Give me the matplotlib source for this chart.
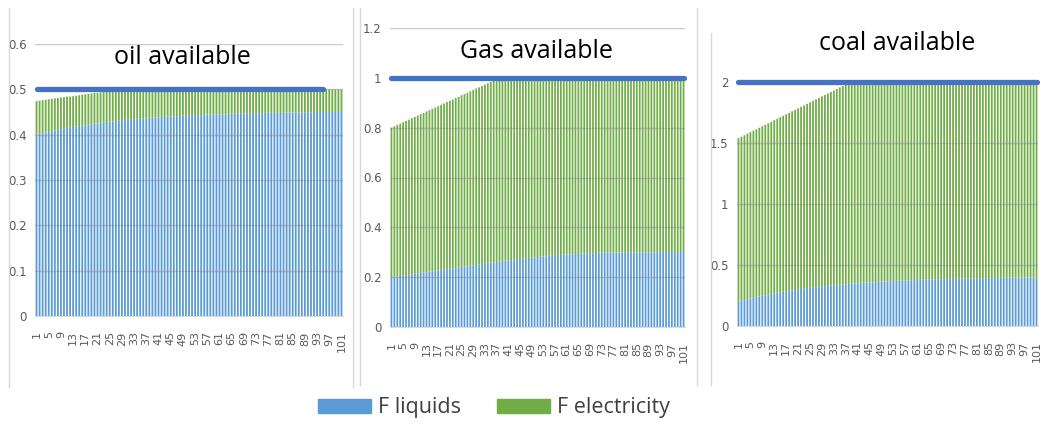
import matplotlib
matplotlib.use("Agg")
import matplotlib.pyplot as plt
from matplotlib.patches import Patch
from matplotlib.lines import Line2D

W, H = 1043, 430

# period index 1..101 (x axis of each chart)
periods = list(range(1, 102))
tick_pos = list(range(1, 102, 4))
tick_txt = [str(t) for t in tick_pos]

# --- oil ---
oil_liquids = [
    0.400, 0.402, 0.403, 0.405, 0.406, 0.408, 0.409, 0.411, 0.412, 0.413,
    0.415, 0.416, 0.417, 0.418, 0.419, 0.420, 0.421, 0.422, 0.423, 0.424,
    0.425, 0.426, 0.427, 0.428, 0.429, 0.429, 0.430, 0.431, 0.432, 0.432,
    0.433, 0.433, 0.434, 0.435, 0.435, 0.436, 0.436, 0.437, 0.437, 0.438,
    0.438, 0.439, 0.439, 0.440, 0.440, 0.440, 0.441, 0.441, 0.442, 0.442,
    0.442, 0.443, 0.443, 0.443, 0.443, 0.444, 0.444, 0.444, 0.444, 0.445,
    0.445, 0.445, 0.445, 0.446, 0.446, 0.446, 0.446, 0.446, 0.447, 0.447,
    0.447, 0.447, 0.447, 0.447, 0.448, 0.448, 0.448, 0.448, 0.448, 0.448,
    0.448, 0.448, 0.449, 0.449, 0.449, 0.449, 0.449, 0.449, 0.449, 0.449,
    0.449, 0.450, 0.450, 0.450, 0.450, 0.450, 0.450, 0.450, 0.450, 0.450,
    0.450,
]
# top of the stacked bar (liquids + electricity)
oil_top = [
    0.474, 0.475, 0.476, 0.477, 0.478, 0.479, 0.480, 0.481, 0.482, 0.483,
    0.484, 0.484, 0.485, 0.486, 0.487, 0.488, 0.489, 0.490, 0.491, 0.492,
    0.492, 0.493, 0.494, 0.495, 0.496, 0.497, 0.498, 0.499,
] + [0.5] * 73
oil_available = [0.5] * 95

# --- gas ---
gas_liquids = [
    0.200, 0.202, 0.203, 0.205, 0.207, 0.209, 0.210, 0.212, 0.214, 0.215,
    0.217, 0.219, 0.220, 0.222, 0.224, 0.226, 0.227, 0.229, 0.231, 0.232,
    0.234, 0.236, 0.237, 0.239, 0.241, 0.243, 0.244, 0.246, 0.248, 0.249,
    0.251, 0.253, 0.254, 0.256, 0.258, 0.260, 0.261, 0.263, 0.265, 0.266,
    0.268, 0.269, 0.271, 0.272, 0.273, 0.274, 0.276, 0.277, 0.278, 0.279,
    0.281, 0.282, 0.283, 0.284, 0.286, 0.287, 0.288, 0.289, 0.289, 0.290,
    0.291, 0.291, 0.292, 0.293, 0.293, 0.294, 0.295, 0.295, 0.296, 0.296,
    0.297, 0.298, 0.298, 0.299, 0.299, 0.299, 0.299, 0.299, 0.299, 0.299,
    0.299, 0.299, 0.300, 0.300, 0.300, 0.300, 0.300, 0.300, 0.300, 0.300,
    0.300, 0.300, 0.301, 0.301, 0.301, 0.301, 0.301, 0.301, 0.301, 0.301,
    0.301,
]
gas_top = [
    0.800, 0.805, 0.811, 0.816, 0.822, 0.827, 0.832, 0.838, 0.843, 0.849,
    0.854, 0.859, 0.865, 0.870, 0.876, 0.881, 0.886, 0.892, 0.897, 0.903,
    0.908, 0.913, 0.919, 0.924, 0.930, 0.935, 0.940, 0.946, 0.951, 0.957,
    0.962, 0.967, 0.973, 0.978, 0.984, 0.989, 0.994,
] + [1.0] * 64
gas_available = [1.0] * 101

# --- coal ---
coal_liquids = [
    0.200, 0.207, 0.213, 0.220, 0.226, 0.231, 0.237, 0.243, 0.248, 0.253,
    0.258, 0.263, 0.268, 0.272, 0.276, 0.281, 0.285, 0.289, 0.292, 0.296,
    0.300, 0.303, 0.307, 0.310, 0.313, 0.316, 0.319, 0.322, 0.324, 0.327,
    0.330, 0.332, 0.334, 0.337, 0.339, 0.341, 0.343, 0.345, 0.347, 0.349,
    0.351, 0.353, 0.354, 0.356, 0.358, 0.359, 0.361, 0.362, 0.364, 0.365,
    0.366, 0.368, 0.369, 0.370, 0.371, 0.372, 0.373, 0.374, 0.375, 0.376,
    0.377, 0.378, 0.379, 0.380, 0.381, 0.382, 0.382, 0.383, 0.384, 0.384,
    0.385, 0.386, 0.386, 0.387, 0.388, 0.388, 0.389, 0.389, 0.390, 0.390,
    0.391, 0.391, 0.392, 0.392, 0.393, 0.393, 0.393, 0.394, 0.394, 0.394,
    0.395, 0.395, 0.395, 0.396, 0.396, 0.396, 0.397, 0.397, 0.397, 0.397,
    0.398,
]
coal_top = [
    1.540, 1.552, 1.564, 1.577, 1.589, 1.601, 1.613, 1.625, 1.638, 1.650,
    1.662, 1.674, 1.686, 1.699, 1.711, 1.723, 1.735, 1.747, 1.760, 1.772,
    1.784, 1.796, 1.808, 1.821, 1.833, 1.845, 1.857, 1.869, 1.882, 1.894,
    1.906, 1.918, 1.930, 1.943, 1.955, 1.967, 1.979, 1.991,
] + [2.0] * 63
coal_available = [2.0] * 101

oil_yticks = [0, 0.1, 0.2, 0.3, 0.4, 0.5, 0.6]
oil_ylabels = ["0", "0.1", "0.2", "0.3", "0.4", "0.5", "0.6"]
gas_yticks = [0, 0.2, 0.4, 0.6, 0.8, 1.0, 1.2]
gas_ylabels = ["0", "0.2", "0.4", "0.6", "0.8", "1", "1.2"]
coal_yticks = [0, 0.5, 1.0, 1.5, 2.0]
coal_ylabels = ["0", "0.5", "1", "1.5", "2"]

BLUE = "#5B9BD5"
GREEN = "#70AD47"
LINE = "#4472C4"
NARROW = ["Liberation Sans Narrow", "DejaVu Sans"]
TITLE_FONT = ["Open Sans", "DejaVu Sans"]


def px(x0, y0, x1, y1):
    # pixel box (top-left origin) -> figure fraction
    return [x0 / W, 1 - y1 / H, (x1 - x0) / W, (y1 - y0) / H]


def panel(fig, box, liquids, top, available, yticks, ylabels):
    ax = fig.add_axes(px(*box))
    electricity = [t - l for t, l in zip(top, liquids)]
    b1 = ax.bar(periods, liquids, width=0.6, color=BLUE, lw=0, zorder=2)
    b2 = ax.bar(periods, electricity, bottom=liquids, width=0.6, color=GREEN,
                lw=0, zorder=2)
    # no pixel snapping -> no moire bands on the 3px bar pitch
    for r in list(b1) + list(b2):
        r.set_snap(False)
    for y in yticks[1:]:
        ax.axhline(y, color="#808080", alpha=0.4, lw=1, zorder=3)
    ax.plot(periods[:len(available)], available, color=LINE, lw=3.8,
            solid_capstyle="round", zorder=4, clip_on=False)
    ax.set_xlim(0.5, 101.5)
    ax.set_ylim(yticks[0], yticks[-1])
    ax.set_yticks(yticks)
    ax.set_yticklabels(ylabels, family=NARROW, fontsize=8.5, color="#595959")
    ax.set_xticks(tick_pos)
    ax.set_xticklabels(tick_txt, rotation=90, fontsize=8, color="#595959")
    ax.tick_params(axis="x", length=0, pad=11)
    ax.tick_params(axis="y", length=0, pad=6)
    for s in ["top", "right", "left"]:
        ax.spines[s].set_visible(False)
    ax.spines["bottom"].set_color("#D9D9D9")
    return ax


fig = plt.figure(figsize=(W / 100, H / 100), dpi=100)

panel(fig, (35, 44, 343, 316), oil_liquids, oil_top, oil_available,
      oil_yticks, oil_ylabels)
panel(fig, (390, 28, 685, 327), gas_liquids, gas_top, gas_available,
      gas_yticks, gas_ylabels)
panel(fig, (737, 82, 1038, 326), coal_liquids, coal_top, coal_available,
      coal_yticks, coal_ylabels)

titles = [("oil available", 182, 57), ("Gas available", 536, 52),
          ("coal available", 897, 43)]
for txt, x, y in titles:
    fig.text(x / W, 1 - y / H, txt, ha="center", va="center",
             family=TITLE_FONT, fontsize=18, color="black")

# chart frames of the three pasted Excel charts
for x, y0, y1 in [(9, 8, 387), (353, 8, 387), (360, 8, 385), (697, 8, 385),
                  (711, 33, 385)]:
    fig.add_artist(Line2D([x / W, x / W], [1 - y0 / H, 1 - y1 / H],
                          color="#D9D9D9", lw=1))

handles = [Patch(color=BLUE, label="F liquids"),
           Patch(color=GREEN, label="F electricity")]
leg = fig.legend(handles=handles, loc="center left",
                 bbox_to_anchor=(318 / W, 1 - 408 / H), ncol=2, frameon=False,
                 prop={"family": TITLE_FONT, "size": 15.5},
                 handlelength=2.45, handleheight=0.65, handletextpad=0.33,
                 columnspacing=1.7, borderpad=0, borderaxespad=0)
for t in leg.get_texts():
    t.set_color("#404040")

fig.savefig("out.png", dpi=100)
